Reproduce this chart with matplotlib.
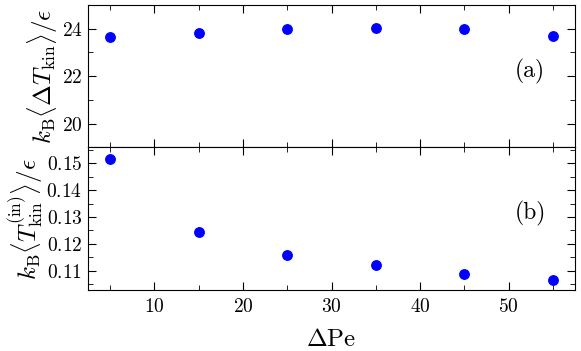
import numpy as np
import matplotlib
matplotlib.use("Agg")
import matplotlib.pyplot as plt
from matplotlib.ticker import MultipleLocator

plt.rcParams['font.family'] = 'serif'
plt.rcParams['font.serif'] = ['cmr10']
plt.rcParams['mathtext.fontset'] = 'cm'
plt.rcParams['axes.formatter.use_mathtext'] = True

dpe = [5, 15, 25, 35, 45, 55]
dT_kin = [23.63, 23.80, 23.99, 24.02, 23.98, 23.69]
T_kin_in = [0.1518, 0.1244, 0.1159, 0.1122, 0.1087, 0.1066]

fig, (ax1, ax2) = plt.subplots(2, 1, sharex=True, figsize=(5.81, 3.51), dpi=100)
fig.subplots_adjust(left=0.1515, right=0.9897, top=0.986, bottom=0.174, hspace=0)

ax1.plot(dpe, dT_kin, 'o', color='blue', markersize=6.8)
ax2.plot(dpe, T_kin_in, 'o', color='blue', markersize=6.8)

ax1.set_ylim(19, 25)
ax2.set_ylim(0.1028, 0.156)
ax2.set_xlim(2.5, 57.5)

ax1.yaxis.set_major_locator(MultipleLocator(2))
ax1.yaxis.set_minor_locator(MultipleLocator(1))
ax2.yaxis.set_major_locator(MultipleLocator(0.01))
ax2.yaxis.set_minor_locator(MultipleLocator(0.005))
ax2.xaxis.set_major_locator(MultipleLocator(10))
ax2.xaxis.set_minor_locator(MultipleLocator(5))

for ax in (ax1, ax2):
    ax.tick_params(which='both', direction='in', top=True, right=True, labelsize=14)
    ax.tick_params(which='major', length=6, pad=4)
    ax.tick_params(which='minor', length=3.5)
ax2.tick_params(axis='x', which='major', pad=6)

ax1.set_ylabel(r'$k_{\rm B}\langle\Delta T_{\rm kin}\rangle/\epsilon$', fontsize=18, labelpad=1)
ax2.set_ylabel(r'$k_{\rm B}\langle T_{\rm kin}^{\rm (in)}\rangle/\epsilon$', fontsize=18, labelpad=1)
ax2.set_xlabel(r'$\Delta{\rm Pe}$', fontsize=18, labelpad=9)

ax1.text(0.908, 0.53, '(a)', transform=ax1.transAxes, fontsize=17, ha='center', va='center')
ax2.text(0.908, 0.54, '(b)', transform=ax2.transAxes, fontsize=17, ha='center', va='center')

fig.savefig('out.png', dpi=100)
